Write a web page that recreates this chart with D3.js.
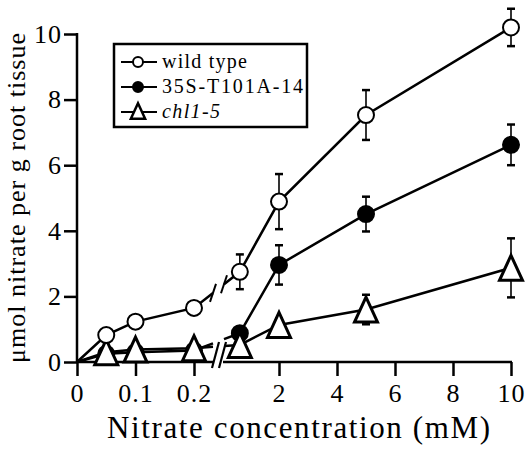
<!DOCTYPE html>
<html>
<head>
<meta charset="utf-8">
<script src="https://cdn.jsdelivr.net/npm/d3@7"></script>
<style>
  html, body { margin: 0; padding: 0; background: #fff; }
  svg { display: block; }
  text { font-family: "Liberation Serif", "Times New Roman", serif; fill: #000; }
</style>
</head>
<body>
<svg id="chart" width="530" height="450"></svg>
<script>
// ---- data ----
const concentrations = [0, 0.05, 0.1, 0.2, 0.65, 2, 5, 10];
const wildType      = [0, 0.82, 1.23, 1.65, 2.75, 4.89, 7.53, 10.2];
const wildTypeErr   = [0, 0, 0, 0, 0.53, 0.84, 0.76, 0.57];
const t101a         = [0, 0.25, 0.30, 0.35, 0.88, 2.96, 4.51, 6.62];
const t101aErr      = [0, 0, 0, 0, 0, 0.60, 0.53, 0.62];
const chl15         = [0, 0.30, 0.38, 0.42, 0.52, 1.13, 1.60, 2.87];
const chl15Err      = [0, 0, 0, 0, 0, 0.20, 0.45, 0.90];
const xTicksLeft    = [0, 0.1, 0.2];
const xTickLabelsLeft = ["0", "0.1", "0.2"];
const xTicksRight   = [2, 4, 6, 8, 10];
const yTicks        = [0, 2, 4, 6, 8, 10];
const seriesNames   = ["wild type", "35S-T101A-14", "chl1-5"];

const SERIF = '"Liberation Serif", "Times New Roman", serif';

// ---- scales ----
const svg = d3.select("#chart");
const xL = d3.scaleLinear().domain([0, 0.2]).range([77, 194]);
const xR = d3.scaleLinear().domain([2, 10]).range([279, 511]);
const X = v => v <= 0.25 ? xL(v) : xR(v);
const y = d3.scaleLinear().domain([0, 10]).range([362, 34]);
const breakL = 213, breakR = 224;

// ---- axes ----
const yAxis = svg.append("g").attr("transform", `translate(77,0)`)
  .call(d3.axisLeft(y).tickValues(yTicks).tickFormat(d3.format("d")).tickSize(13).tickSizeOuter(0).tickPadding(2));
yAxis.attr("font-family", SERIF);
yAxis.select(".domain").remove();
yAxis.selectAll("line").attr("stroke", "#000").attr("stroke-width", 2.5);
yAxis.selectAll("text").style("font-size", "26px").style("font-family", SERIF).style("letter-spacing", "1px");
svg.append("line").attr("x1", 77).attr("x2", 77).attr("y1", y(0) + 1).attr("y2", y(10) - 1)
  .attr("stroke", "#000").attr("stroke-width", 2.5);

const xAxL = svg.append("g").attr("transform", `translate(0,${y(0)})`)
  .call(d3.axisBottom(xL).tickValues(xTicksLeft).tickFormat((d, i) => xTickLabelsLeft[i]).tickSize(14).tickSizeOuter(0).tickPadding(8));
const xAxR = svg.append("g").attr("transform", `translate(0,${y(0)})`)
  .call(d3.axisBottom(xR).tickValues(xTicksRight).tickFormat(d3.format("d")).tickSize(14).tickSizeOuter(0).tickPadding(8));
[xAxL, xAxR].forEach(g => {
  g.attr("font-family", SERIF);
  g.select(".domain").remove();
  g.selectAll("line").attr("stroke", "#000").attr("stroke-width", 2.5);
  g.selectAll("text").style("font-size", "26px").style("font-family", SERIF).style("letter-spacing", "1px");
});
svg.append("line").attr("x1", 76).attr("x2", breakL).attr("y1", y(0)).attr("y2", y(0)).attr("stroke", "#000").attr("stroke-width", 2.5);
svg.append("line").attr("x1", breakR - 1).attr("x2", 512).attr("y1", y(0)).attr("y2", y(0)).attr("stroke", "#000").attr("stroke-width", 2.5);
// axis break marks
[[212, 219], [219, 226]].forEach(([a, b]) => {
  svg.append("line").attr("x1", a).attr("y1", y(0) + 6).attr("x2", b).attr("y2", y(0) - 20)
    .attr("stroke", "#000").attr("stroke-width", 2.2);
});

// ---- axis titles ----
svg.append("text").attr("x", 107).attr("y", 438).attr("textLength", 383).attr("lengthAdjust", "spacing")
  .style("font-size", "31px").style("font-family", SERIF).text("Nitrate concentration (mM)");
svg.append("text").attr("transform", "translate(25,363) rotate(-90)").attr("x", 0).attr("y", 0)
  .attr("textLength", 330).attr("lengthAdjust", "spacing")
  .style("font-size", "26px").style("font-family", SERIF).text("μmol nitrate per g root tissue");

// ---- series ----
const series = [
  { name: seriesNames[1], vals: t101a, err: t101aErr, marker: "filled" },
  { name: seriesNames[2], vals: chl15, err: chl15Err, marker: "triangle" },
  { name: seriesNames[0], vals: wildType, err: wildTypeErr, marker: "open" }
];
const triPath = (s) => `M0,${-12.5 * s}L${11.5 * s},${12.5 * s}L${-11.5 * s},${12.5 * s}Z`;
const line = d3.line().x(d => d[0]).y(d => d[1]);

function drawMarker(g, type, cx, cy, scale) {
  if (type === "triangle") {
    g.append("path").attr("d", triPath(scale)).attr("transform", `translate(${cx},${cy})`)
      .attr("fill", "#fff").attr("stroke", "#000").attr("stroke-width", 3).attr("stroke-linejoin", "miter");
  } else {
    g.append("circle").attr("cx", cx).attr("cy", cy).attr("r", 8 * scale)
      .attr("fill", type === "filled" ? "#000" : "#fff").attr("stroke", "#000").attr("stroke-width", 2);
  }
}

series.forEach(s => {
  const g = svg.append("g");
  const pts = concentrations.map((c, i) => [X(c), y(s.vals[i])]);
  const iL = concentrations.findIndex(c => c > 0.25) - 1;
  const p0 = pts[iL], p1 = pts[iL + 1];
  const interp = xx => [xx, p0[1] + (p1[1] - p0[1]) * (xx - p0[0]) / (p1[0] - p0[0])];
  const left = pts.slice(0, iL + 1).concat([interp(breakL)]);
  const right = [interp(breakR)].concat(pts.slice(iL + 1));
  [left, right].forEach(seg => g.append("path").attr("d", line(seg)).attr("fill", "none")
    .attr("stroke", "#000").attr("stroke-width", 2.5));
  if (s.marker === "open") {
    [breakL, breakR].forEach(bx => {
      const q = interp(bx);
      g.append("line").attr("x1", q[0] - 3).attr("y1", q[1] + 9).attr("x2", q[0] + 3).attr("y2", q[1] - 9)
        .attr("stroke", "#000").attr("stroke-width", 2);
    });
  }
  concentrations.forEach((c, i) => {
    if (s.err[i] > 0) {
      const cx = X(c), yt = y(s.vals[i] + s.err[i]), yb = y(s.vals[i] - s.err[i]);
      g.append("line").attr("x1", cx).attr("x2", cx).attr("y1", yt).attr("y2", yb).attr("stroke", "#000").attr("stroke-width", 1.6);
      [yt, yb].forEach(yy => g.append("line").attr("x1", cx - 4).attr("x2", cx + 4).attr("y1", yy).attr("y2", yy)
        .attr("stroke", "#000").attr("stroke-width", 2.5));
    }
  });
  concentrations.forEach((c, i) => {
    if (c > 0) drawMarker(g, s.marker, X(c), y(s.vals[i]), 1);
  });
});

// ---- legend ----
const lg = svg.append("g");
lg.append("rect").attr("x", 114).attr("y", 44).attr("width", 193).attr("height", 83)
  .attr("fill", "#fff").attr("stroke", "#000").attr("stroke-width", 2.5);
const legendItems = [
  { name: seriesNames[0], marker: "open", w: 85, italic: false },
  { name: seriesNames[1], marker: "filled", w: 141, italic: false },
  { name: seriesNames[2], marker: "triangle", w: 58, italic: true }
];
legendItems.forEach((it, i) => {
  const cy = 62 + i * 25;
  lg.append("line").attr("x1", 121).attr("x2", 157).attr("y1", cy).attr("y2", cy).attr("stroke", "#000").attr("stroke-width", 2.2);
  if (it.marker === "triangle") {
    lg.append("path").attr("d", triPath(0.62)).attr("transform", `translate(138,${cy - 1})`)
      .attr("fill", "#fff").attr("stroke", "#000").attr("stroke-width", 2.5);
  } else {
    lg.append("circle").attr("cx", 138).attr("cy", cy).attr("r", 5)
      .attr("fill", it.marker === "filled" ? "#000" : "#fff").attr("stroke", "#000").attr("stroke-width", 2);
  }
  lg.append("text").attr("x", 162).attr("y", cy + 6).attr("textLength", it.w).attr("lengthAdjust", "spacing")
    .style("font-size", "20px").style("font-family", SERIF).style("font-style", it.italic ? "italic" : "normal").text(it.name);
});
</script>
</body>
</html>
